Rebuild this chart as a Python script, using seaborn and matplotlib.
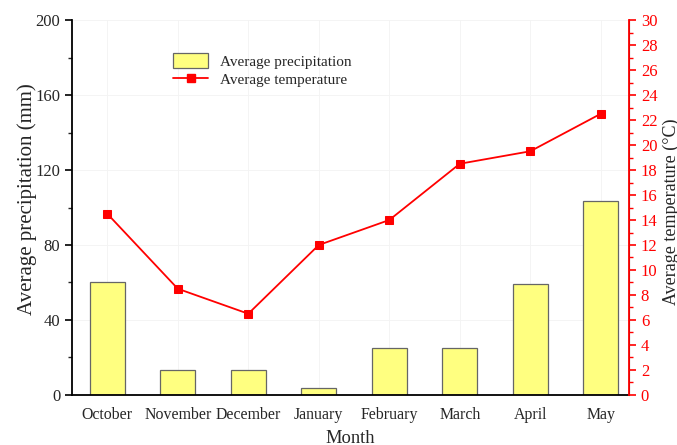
import matplotlib
matplotlib.use("Agg")
import matplotlib.pyplot as plt
import seaborn as sns
import numpy as np
import pandas as pd
from matplotlib.patches import Patch
from matplotlib.lines import Line2D

months = ["October", "November", "December", "January", "February", "March", "April", "May"]
precip = [60, 13.5, 13.5, 3.8, 25, 25.3, 59.3, 103.3]
temp = [14.5, 8.5, 6.5, 12, 14, 18.5, 19.5, 22.5]

sns.set_style("white")
plt.rcParams["font.family"] = ["Liberation Serif", "DejaVu Serif"]

df = pd.DataFrame({"Month": months, "precip": precip, "temp": temp})

fig = plt.figure(figsize=(6.77, 4.45), dpi=100)
ax = fig.add_axes([0.1064, 0.1124, 0.8227, 0.8426])

bar_color = "#FFFF80"
sns.barplot(data=df, x="Month", y="precip", color=bar_color, edgecolor="#666666",
            linewidth=0.9, width=0.5, saturation=1, ax=ax)
ax.grid(True, color="#f3f3f3", linewidth=0.6)
ax.set_axisbelow(True)

ax.set_xlim(-0.5, 7.4)
ax.set_ylim(0, 200)
ax.set_yticks(np.arange(0, 201, 40))
ax.set_yticks(np.arange(20, 200, 40), minor=True)
ax.set_xticks(np.arange(-0.5, 7.5, 1), minor=True)
ax.tick_params(axis="both", which="major", direction="out", length=5, width=1.2,
               color="black")
ax.tick_params(axis="x", which="major", labelsize=11.4)
ax.tick_params(axis="y", which="major", labelsize=12)
ax.tick_params(axis="both", which="minor", direction="out", length=3, width=1.0)
ax.set_xlabel("Month", fontsize=13.3, labelpad=5)
ax.set_ylabel("Average precipitation (mm)", fontsize=15)
ax.yaxis.set_label_coords(-0.063, 0.523)
for s in ["left", "bottom"]:
    ax.spines[s].set_linewidth(1.3)
    ax.spines[s].set_color("black")
ax.spines["top"].set_visible(False)

ax2 = ax.twinx()
x_idx = np.arange(len(months))
sns.lineplot(x=x_idx, y=temp, color="red", marker="s", markersize=5.5,
             markeredgecolor="red", linewidth=1.3, sort=False, ax=ax2)
ax2.set_ylim(0, 30)
ax2.set_yticks(np.arange(0, 31, 2))
ax2.set_yticks(np.arange(1, 30, 2), minor=True)
ax2.tick_params(axis="y", which="major", direction="out", length=5, width=1.2,
                labelsize=12, colors="red")
ax2.tick_params(axis="y", which="minor", direction="out", length=3, width=1.0,
                colors="red")
ax2.set_ylabel("Average temperature (°C)", fontsize=13)
ax2.yaxis.set_label_coords(1.06, 0.49)
ax2.spines["right"].set_color("red")
ax2.spines["right"].set_linewidth(1.3)
ax2.spines["top"].set_visible(False)
ax2.spines["left"].set_visible(False)
ax2.spines["bottom"].set_visible(False)
ax2.set_xlim(-0.5, 7.4)

handles = [Patch(facecolor=bar_color, edgecolor="#666666", linewidth=0.9),
           Line2D([0], [0], color="red", marker="s", markersize=5.5, linewidth=1.3)]
ax2.legend(handles, ["Average precipitation", "Average temperature"],
           loc="upper left", bbox_to_anchor=(0.157, 0.948), frameon=False,
           fontsize=11, handlelength=2.3, handleheight=1.1, labelspacing=0.2,
           handletextpad=0.75)

fig.savefig("out.png", dpi=100)
